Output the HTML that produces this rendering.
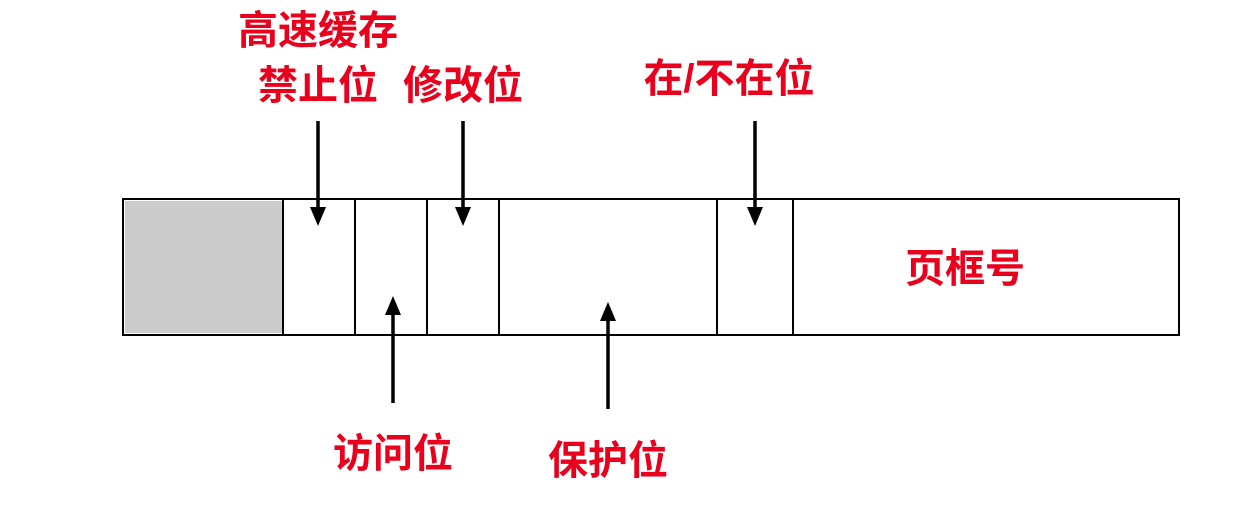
<!DOCTYPE html>
<html><head><meta charset="utf-8"><style>
body{margin:0;width:1260px;height:504px;background:#fff;overflow:hidden}
</style></head><body>
<svg width="1260" height="504" viewBox="0 0 1260 504" xmlns="http://www.w3.org/2000/svg">
<rect x="123" y="199" width="1056" height="136" fill="#fff" stroke="#000" stroke-width="2"/>
<rect x="125" y="201" width="157" height="132" fill="#cccccc"/>
<g stroke="#000" stroke-width="2">
<line x1="283" y1="199" x2="283" y2="335"/>
<line x1="355" y1="199" x2="355" y2="335"/>
<line x1="427" y1="199" x2="427" y2="335"/>
<line x1="499" y1="199" x2="499" y2="335"/>
<line x1="717" y1="199" x2="717" y2="335"/>
<line x1="793" y1="199" x2="793" y2="335"/>
</g>
<g stroke="#000" stroke-width="3.5">
<line x1="318" y1="121" x2="318" y2="210"/>
<line x1="463" y1="121" x2="463" y2="210"/>
<line x1="755" y1="121" x2="755" y2="210"/>
<line x1="393" y1="403" x2="393" y2="312"/>
<line x1="608" y1="409" x2="608" y2="318"/>
</g>
<g fill="#000">
<polygon points="310,207 326,207 318,226"/>
<polygon points="455,207 471,207 463,226"/>
<polygon points="747,207 763,207 755,226"/>
<polygon points="385,315 401,315 393,296"/>
<polygon points="600,321 616,321 608,302"/>
</g>
<g fill="#e8001c" font-family="Liberation Sans, Noto Sans CJK SC, sans-serif" font-weight="bold" font-size="40" text-anchor="middle">
<text x="318" y="44">高速缓存</text>
<text x="318" y="99">禁止位</text>
<text x="463" y="99">修改位</text>
<text x="729" y="92">在/不在位</text>
<text x="965" y="282">页框号</text>
<text x="393" y="467">访问位</text>
<text x="608" y="474">保护位</text>
</g>
</svg>
</body></html>
